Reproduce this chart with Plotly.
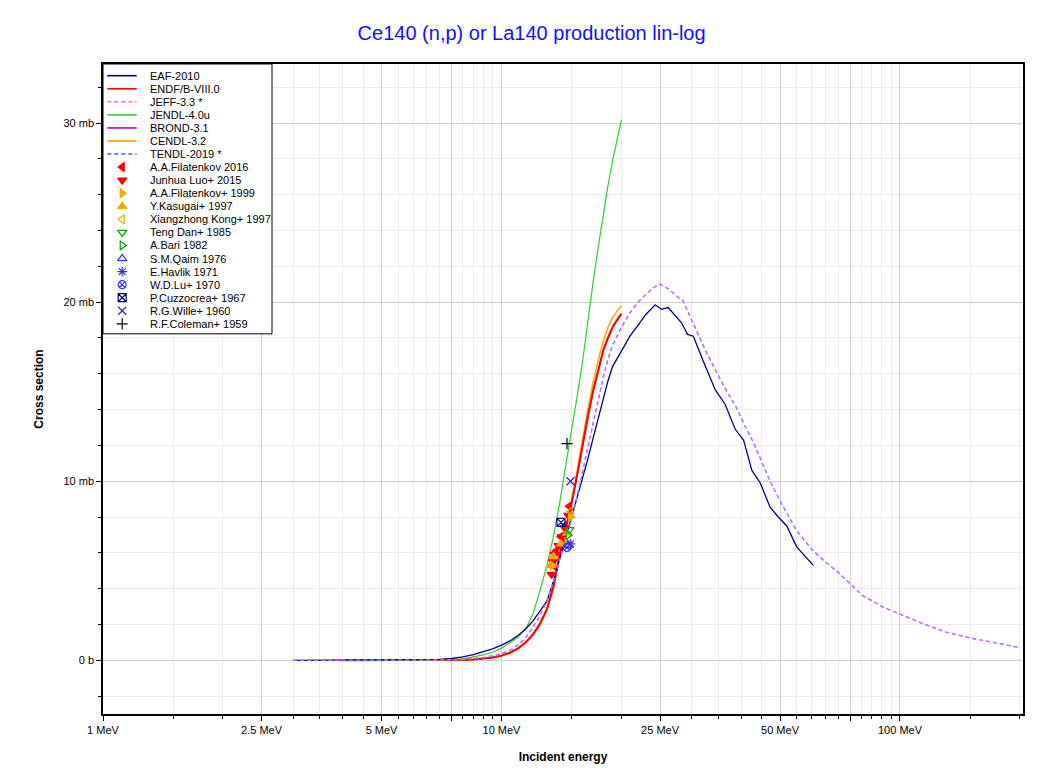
import plotly.graph_objects as go

# ---------------- evaluated cross sections (E in MeV, sigma in mb) ----------------
eaf_E = [3.0, 4.0, 5.0, 6.0, 7.0, 7.5, 8.0, 8.5, 9.0, 9.5, 10.0, 10.5, 11.0, 11.5, 12.0,
         12.5, 13.0, 13.5, 14.0, 14.5, 15.0, 15.5, 16.0, 16.5, 17.0, 17.5, 18.0, 18.5,
         19.0, 20.0, 21.0, 22.0, 23.0, 24.3, 25.2, 26.2, 27.5, 28.3, 29.3, 30.3, 32.1,
         34.4, 36.4, 38.6, 40.5, 42.5, 44.6, 47.2, 49.5, 52.0, 55.0, 60.6]
eaf_S = [0.0, 0.003, 0.01, 0.02, 0.05, 0.1, 0.19, 0.32, 0.47, 0.64, 0.85, 1.08, 1.38, 1.75,
         2.2, 2.75, 3.3, 4.4, 5.7, 6.9, 8.0, 9.1, 10.2, 11.3, 12.45, 13.5, 14.6, 15.6,
         16.4, 17.3, 18.1, 18.7, 19.3, 19.85, 19.6, 19.7, 19.15, 18.85, 18.2, 18.1, 16.7,
         15.1, 14.3, 12.9, 12.3, 10.6, 9.9, 8.55, 8.0, 7.5, 6.35, 5.3]

endf_E = [4.0, 5.0, 6.0, 7.0, 8.0, 8.5, 9.0, 9.5, 10.0, 10.5, 11.0, 11.5, 12.0, 12.5, 13.0,
          13.5, 14.0, 14.5, 15.0, 15.5, 16.0, 16.5, 17.0, 17.5, 18.0, 18.5, 19.0, 19.5, 20.0]
endf_S = [0.0, 0.002, 0.005, 0.01, 0.03, 0.05, 0.09, 0.15, 0.26, 0.42, 0.66, 1.0, 1.45, 2.05,
          2.85, 4.1, 5.9, 7.3, 8.8, 10.4, 12.1, 13.7, 15.1, 16.3, 17.3, 18.0, 18.6, 19.0, 19.35]

brond_E = endf_E
brond_S = endf_S

cendl_E = endf_E
cendl_S = [0.0, 0.002, 0.005, 0.01, 0.03, 0.05, 0.09, 0.15, 0.25, 0.41, 0.65, 0.98, 1.42, 2.0,
           2.8, 4.05, 5.85, 7.3, 8.9, 10.6, 12.4, 14.1, 15.6, 16.8, 17.8, 18.6, 19.15, 19.5, 19.8]

jendl_E = endf_E
jendl_S = [0.0, 0.002, 0.005, 0.02, 0.08, 0.18, 0.3, 0.45, 0.68, 0.97, 1.3, 1.75, 2.6, 3.9,
           5.3, 6.9, 8.8, 10.9, 12.8, 14.8, 16.8, 19.1, 21.2, 23.1, 24.9, 26.5, 27.9, 29.0, 30.2]

jeff_E = [3.0, 4.0, 5.0, 6.0, 7.0, 8.0, 9.0, 9.5, 10.0, 10.5, 11.0, 11.5, 12.0, 12.5, 13.0,
          13.5, 14.0, 14.5, 15.0, 15.5, 16.0, 16.5, 17.0, 17.5, 18.0, 18.5, 19.0, 20.0, 21.0,
          22.0, 23.0, 24.0, 25.0, 26.2, 27.8, 28.5, 29.8, 30.9, 32.5, 34.8, 36.8, 38.9, 40.8,
          42.8, 45.0, 47.2, 50.0, 55.0, 60.0, 64.2, 70.0, 75.6, 80.8, 90.7, 101.8, 114.0,
          130.0, 152.5, 178.4, 200.0]
jeff_S = [0.0, 0.0, 0.005, 0.01, 0.02, 0.05, 0.15, 0.25, 0.38, 0.55, 0.85, 1.25, 1.85, 2.5,
          3.3, 4.4, 5.6, 6.8, 7.9, 9.2, 10.6, 12.0, 13.4, 14.7, 15.8, 16.8, 17.6, 18.6, 19.4,
          20.0, 20.4, 20.8, 21.0, 20.75, 20.25, 20.1, 19.15, 18.4, 17.3, 16.0, 15.0, 14.1,
          13.1, 12.2, 11.1, 10.0, 8.9, 7.25, 6.2, 5.6, 4.9, 4.2, 3.6, 2.97, 2.5, 2.05, 1.58,
          1.21, 0.93, 0.7]

tendl_E = jeff_E
tendl_S = jeff_S

# ---------------- experimental data (E in MeV, sigma in mb) ----------------
filat16_E = [13.5, 13.7, 14.1, 14.4, 14.8]
filat16_S = [5.3, 6.1, 6.9, 7.5, 8.6]
luo15_E = [13.35, 13.45, 13.6, 13.9, 14.15, 14.4, 14.7]
luo15_S = [4.8, 5.5, 5.9, 6.4, 6.9, 7.4, 8.1]
filat99_E = [13.4, 14.6, 14.9]
filat99_S = [5.3, 6.6, 8.0]
kasugai_E = [13.3, 13.5, 14.1, 14.6]
kasugai_S = [5.3, 5.8, 6.5, 7.1]
kong_E = [14.9]
kong_S = [8.3]
teng_E = [14.8]
teng_S = [7.3]
bari_E = [14.7]
bari_S = [7.0]
qaim_E = [14.7]
qaim_S = [6.4]
havlik_E = [14.9]
havlik_S = [6.5]
lu_E = [14.6]
lu_S = [6.3]
cuzz_E = [14.1]
cuzz_S = [7.7]
wille_E = [14.9]
wille_S = [10.0]
coleman_E = [14.6]
coleman_S = [12.1]

# ---------------- axis ticks ----------------
x_major = [1, 2.5, 5, 7.5, 10, 25, 50, 75, 100]
x_major_text = ["1 MeV", "2.5 MeV", "5 MeV", "", "10 MeV", "25 MeV", "50 MeV", "", "100 MeV"]
x_minor = [1.5, 2, 3, 3.5, 4, 4.5, 5.5, 6, 6.5, 7, 8, 8.5, 9, 9.5,
           15, 20, 30, 35, 40, 45, 55, 60, 65, 70, 80, 85, 90, 95, 150, 200]
y_major = [0, 10, 20, 30]
y_major_text = ["0 b", "10 mb", "20 mb", "30 mb"]
y_minor = [-2, 2, 4, 6, 8, 12, 14, 16, 18, 22, 24, 26, 28, 32]

FONT = "Liberation Sans, Arial, sans-serif"
NAVY = "#000080"
RED = "#ff0000"
ORANGE = "#ffa500"
GREEN_L = "#33cc33"
GREEN = "#00a000"
BLUE = "#3333ff"
MAGENTA = "#cc0099"
PINK = "#ff66ff"
TBLUE = "#3366ff"

fig = go.Figure()


def add_line(E, S, color, width=1.2, dash=None, opacity=1.0):
    fig.add_trace(go.Scatter(x=E, y=S, mode="lines", opacity=opacity,
                             line=dict(color=color, width=width, dash=dash),
                             showlegend=False, hoverinfo="skip"))


add_line(brond_E, brond_S, MAGENTA, 1.5)
add_line(cendl_E, cendl_S, ORANGE, 1.5)
add_line(endf_E, endf_S, RED, 2.0)
add_line(jendl_E, jendl_S, GREEN_L, 1.2)
add_line(eaf_E, eaf_S, NAVY, 1.3)
add_line(tendl_E, tendl_S, TBLUE, 1.2, "4px,3px")
add_line(jeff_E, jeff_S, PINK, 1.4, "4px,3px", opacity=0.75)

# experimental points: (name, E, S, symbol, color)
exp_sets = [
    ("A.A.Filatenkov 2016", filat16_E, filat16_S, "triangle-left", RED),
    ("Junhua Luo+ 2015", luo15_E, luo15_S, "triangle-down", RED),
    ("A.A.Filatenkov+ 1999", filat99_E, filat99_S, "triangle-right", ORANGE),
    ("Y.Kasugai+ 1997", kasugai_E, kasugai_S, "triangle-up", ORANGE),
    ("Xiangzhong Kong+ 1997", kong_E, kong_S, "triangle-left-open", ORANGE),
    ("Teng Dan+ 1985", teng_E, teng_S, "triangle-down-open", GREEN),
    ("A.Bari 1982", bari_E, bari_S, "triangle-right-open", GREEN),
    ("S.M.Qaim 1976", qaim_E, qaim_S, "triangle-up-open", BLUE),
    ("E.Havlik 1971", havlik_E, havlik_S, "asterisk-open", BLUE),
    ("W.D.Lu+ 1970", lu_E, lu_S, "circle-x-open", BLUE),
    ("P.Cuzzocrea+ 1967", cuzz_E, cuzz_S, "square-x-open", NAVY),
    ("R.G.Wille+ 1960", wille_E, wille_S, "x-thin-open", "#2222cc"),
    ("R.F.Coleman+ 1959", coleman_E, coleman_S, "cross-thin-open", "#000000"),
]

for name, E, S, sym, col in exp_sets:
    fig.add_trace(go.Scatter(x=E, y=S, mode="markers", name=name, showlegend=False,
                             marker=dict(symbol=sym, size=8, color=col,
                                         line=dict(color=col, width=1.2))))

# ---------------- compact legend drawn on an overlay axis (pixel units of plot area) ----------------
PLOT_W, PLOT_H = 920, 650
line_items = [
    ("EAF-2010", NAVY, None),
    ("ENDF/B-VIII.0", RED, None),
    ("JEFF-3.3 *", PINK, "4px,3px"),
    ("JENDL-4.0u", GREEN_L, None),
    ("BROND-3.1", MAGENTA, None),
    ("CENDL-3.2", ORANGE, None),
    ("TENDL-2019 *", TBLUE, "4px,3px"),
]
ROW0, ROWH = 11.7, 13.06
BOX_W = 169
n_items = len(line_items) + len(exp_sets)
box_h = ROW0 + ROWH * (n_items - 1) + 10

# white legend box
fig.add_trace(go.Scatter(x=[0, BOX_W, BOX_W, 0, 0], y=[0, 0, box_h, box_h, 0],
                         xaxis="x2", yaxis="y2", mode="lines", fill="toself",
                         fillcolor="white", line=dict(color="black", width=1),
                         showlegend=False, hoverinfo="skip"))

for i, (name, col, dash) in enumerate(line_items):
    yy = ROW0 + ROWH * i
    fig.add_trace(go.Scatter(x=[4.3, 33.7], y=[yy, yy], xaxis="x2", yaxis="y2",
                             mode="lines", line=dict(color=col, width=1.6, dash=dash),
                             showlegend=False, hoverinfo="skip"))
    fig.add_annotation(x=44.7, y=yy, xref="x2", yref="y2", text=name, showarrow=False,
                       xanchor="left", yanchor="middle",
                       font=dict(family=FONT, size=11, color="black"))

for j, (name, E, S, sym, col) in enumerate(exp_sets):
    yy = ROW0 + ROWH * (len(line_items) + j)
    fig.add_trace(go.Scatter(x=[19.2], y=[yy], xaxis="x2", yaxis="y2", mode="markers",
                             showlegend=False, hoverinfo="skip",
                             marker=dict(symbol=sym, size=8, color=col,
                                         line=dict(color=col, width=1.2))))
    fig.add_annotation(x=44.7, y=yy, xref="x2", yref="y2", text=name, showarrow=False,
                       xanchor="left", yanchor="middle",
                       font=dict(family=FONT, size=11, color="black"))

fig.update_layout(
    width=1041, height=766,
    margin=dict(l=95, r=26, t=56, b=60),
    paper_bgcolor="white", plot_bgcolor="white",
    font=dict(family=FONT, size=11, color="black"),
    title=dict(text="Ce140 (n,p) or La140 production lin-log", x=0.503, xanchor="center",
               y=0.9674, yanchor="middle",
               font=dict(family=FONT, size=20, color="#1010ff")),
    showlegend=False,
    xaxis=dict(type="log", range=[0, 2.3087], tickmode="array", tickvals=x_major,
               ticktext=x_major_text, ticks="outside", ticklen=5, tickcolor="black",
               showline=True, linecolor="black", linewidth=1.5, mirror=True,
               showgrid=True, gridcolor="#cfcfcf", gridwidth=1, zeroline=False,
               tickfont=dict(family=FONT, size=11, color="black"),
               minor=dict(tickmode="array", tickvals=x_minor, ticks="outside", ticklen=3,
                          tickcolor="black", showgrid=True, gridcolor="#ececec"),
               title=dict(text="<b>Incident energy</b>", standoff=18,
                          font=dict(family=FONT, size=12, color="black"))),
    yaxis=dict(range=[-3.0, 33.3], tickmode="array", tickvals=y_major, ticktext=y_major_text,
               ticks="outside", ticklen=5, tickcolor="black",
               showline=True, linecolor="black", linewidth=1.5, mirror=True,
               showgrid=True, gridcolor="#cfcfcf", gridwidth=1, zeroline=False,
               tickfont=dict(family=FONT, size=11, color="black"),
               minor=dict(tickmode="array", tickvals=y_minor, ticks="outside", ticklen=3,
                          tickcolor="black", showgrid=True, gridcolor="#ececec"),
               title=dict(text="<b>Cross section</b>", standoff=17,
                          font=dict(family=FONT, size=12, color="black"))),
    xaxis2=dict(overlaying="x", anchor="y2", range=[0, PLOT_W], visible=False,
                fixedrange=True),
    yaxis2=dict(overlaying="y", anchor="x2", range=[PLOT_H, 0], visible=False,
                fixedrange=True),
    yaxis3=dict(overlaying="y", anchor="x", side="right", range=[-3.0, 33.3],
                tickmode="array", tickvals=y_major, ticks="inside", ticklen=5,
                tickcolor="#555555", showticklabels=False, showgrid=False,
                zeroline=False, showline=False, fixedrange=True,
                minor=dict(tickmode="array", tickvals=y_minor, ticks="inside", ticklen=3,
                           tickcolor="#555555", showgrid=False)),
)

fig.write_html("out.html")
